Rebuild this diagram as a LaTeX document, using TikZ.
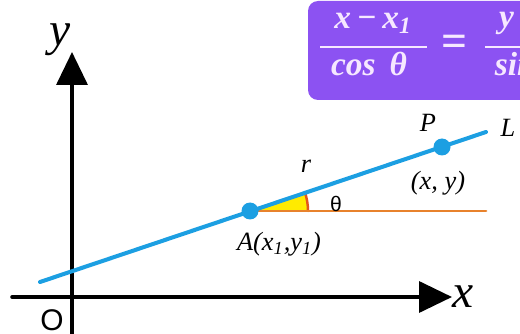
\documentclass[tikz,border=0pt]{standalone}
\usepackage{fontspec}
\setmainfont{Liberation Serif}
\newfontfamily\labsans{Liberation Sans}
\usepackage{xcolor}
\usetikzlibrary{arrows.meta,angles}
\definecolor{boxpurple}{HTML}{8C52F2}
\definecolor{formulatext}{HTML}{F6E8FF}
\definecolor{lineblue}{HTML}{1C9FE2}
\definecolor{rayorange}{HTML}{E8822C}
\definecolor{wedgeyellow}{HTML}{FFEB00}
\definecolor{arcred}{HTML}{E2561C}
\tikzset{
  every picture/.style={line join=round, line cap=round},
  axis/.style={line width=2pt, -{Triangle[length=6.6mm,width=6.2mm]}},
  lineL/.style={lineblue, line width=2.3pt},
  ray/.style={rayorange, line width=1.7pt},
  dot/.style={circle, fill=lineblue, inner sep=0pt, minimum size=3.4mm},
  lab/.style={font=\fontsize{15}{15}\selectfont\itshape, inner sep=0pt},
  axlab/.style={font=\fontsize{27}{27}\selectfont\itshape, inner sep=0pt},
  frm/.style={text=formulatext, font=\fontsize{19}{19}\selectfont\bfseries\itshape, inner sep=0pt},
  fracbar/.style={formulatext, line width=1.6pt, line cap=butt},
}

\begin{document}
\begin{tikzpicture}[x=0.2mm,y=-0.2mm]
\useasboundingbox (0,0) rectangle (520,334);
\clip (0,0) rectangle (520,334);
% formula box
\fill[boxpurple, rounded corners=2mm] (308,1) rectangle (620,100);
\node[frm] (num1) at (373,23) {x\,−\,x\textsubscript{1}};
\node[frm] (den1) at (369,64) {cos \,θ};
\draw[fracbar] (320,47) -- (427,47);
\node[frm, font=\fontsize{26}{26}\selectfont\bfseries] (eq) at (455,46) {=};
\draw[fracbar] (485,47) -- (600,47);
\node[frm] (num2) at (536,23) {y\,−\,y\textsubscript{1}};
\node[frm] (den2) at (531,64) {sin \,θ};
% axes
\coordinate (xstart) at (12,297);
\coordinate (xend) at (452,297);
\coordinate (ystart) at (72,345);
\coordinate (yend) at (72,52);
\draw[axis] (xstart) -- (xend);
\draw[axis] (ystart) -- (yend);
\node[axlab] (xlab) at (463,297) {x};
\node[axlab] (ylab) at (60,40) {y};
\node[font=\fontsize{17}{17}\selectfont\labsans, inner sep=0pt] (O) at (52,320) {O};
% line L, angle
\coordinate (Lstart) at (40,282);
\coordinate (Lend) at (486,132);
\coordinate (Apt) at (250,211);
\coordinate (rayend) at (486,211);
\pic[fill=wedgeyellow, draw=arcred, line width=1.4pt, angle radius=11.6mm] {angle=rayend--Apt--Lend};
\draw[ray] (Apt) -- (rayend);
\draw[lineL] (Lstart) -- (Lend);
\node[dot] (A) at (Apt) {};
\node[dot] (P) at (442,147) {};
% labels
\node[lab] (rlab) at (306,166) {r};
\node[font=\fontsize{12}{12}\selectfont\labsans, inner sep=0pt] (thlab) at (336,204) {θ};
\node[lab] (Plab) at (428,123) {P};
\node[lab] (Llab) at (508,128) {L};
\node[lab] (Pco) at (438,183) {(x, y)};
\node[lab] (Aco) at (279,244) {A(x\textsubscript{1},y\textsubscript{1})};
\end{tikzpicture}
\end{document}
